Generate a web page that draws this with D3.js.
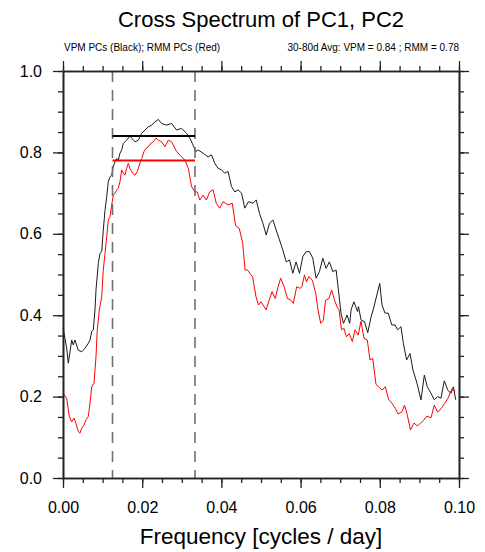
<!DOCTYPE html>
<html>
<head>
<meta charset="utf-8">
<script src="https://cdn.jsdelivr.net/npm/d3@7"></script>
<style>
  body { margin: 0; background: #fff; }
  svg { display: block; font-family: "Liberation Sans", Arial, sans-serif; }
</style>
</head>
<body>
<div id="chart"></div>
<script>
// Frequency (cycles/day) and coherence
const vpmFreq = [0.00003,0.00093,0.00134,0.00220,0.00260,0.00303,0.00386,0.00472,0.00556,0.00639,0.00682,0.00725,0.00765,0.00808,0.00833,0.00891,0.00934,0.00977,0.01017,0.01061,0.01104,0.01144,0.01187,0.01230,0.01270,0.01313,0.01356,0.01396,0.01439,0.01482,0.01523,0.01608,0.01692,0.01735,0.01818,0.01902,0.01988,0.02071,0.02154,0.02240,0.02323,0.02407,0.02490,0.02616,0.02742,0.02869,0.02995,0.03119,0.03202,0.03285,0.03352,0.03411,0.03538,0.03664,0.03750,0.03833,0.03917,0.04003,0.04086,0.04169,0.04255,0.04338,0.04422,0.04508,0.04591,0.04684,0.04796,0.04879,0.04962,0.05048,0.05131,0.05215,0.05301,0.05384,0.05467,0.05551,0.05637,0.05720,0.05803,0.05886,0.05972,0.06056,0.06139,0.06225,0.06308,0.06391,0.06475,0.06561,0.06644,0.06727,0.06813,0.06897,0.06955,0.07020,0.07083,0.07174,0.07240,0.07275,0.07346,0.07437,0.07462,0.07528,0.07614,0.07696,0.07780,0.07833,0.07998,0.08056,0.08131,0.08215,0.08301,0.08384,0.08452,0.08535,0.08594,0.08677,0.08763,0.08838,0.08939,0.09040,0.09125,0.09200,0.09293,0.09376,0.09460,0.09545,0.09629,0.09715,0.09798,0.09858,0.09917];
const vpmVal = [0.368,0.319,0.282,0.339,0.327,0.339,0.314,0.310,0.319,0.331,0.339,0.360,0.364,0.413,0.462,0.527,0.552,0.556,0.609,0.658,0.691,0.728,0.740,0.744,0.765,0.777,0.785,0.781,0.798,0.806,0.822,0.830,0.840,0.835,0.826,0.830,0.847,0.855,0.863,0.867,0.875,0.881,0.871,0.867,0.871,0.855,0.859,0.847,0.835,0.818,0.802,0.806,0.798,0.789,0.794,0.773,0.761,0.757,0.749,0.753,0.716,0.703,0.708,0.700,0.663,0.679,0.675,0.683,0.650,0.626,0.597,0.626,0.634,0.609,0.585,0.560,0.531,0.536,0.503,0.531,0.503,0.544,0.556,0.556,0.540,0.491,0.507,0.540,0.515,0.531,0.507,0.511,0.462,0.405,0.380,0.400,0.380,0.413,0.433,0.409,0.421,0.388,0.384,0.357,0.396,0.413,0.478,0.425,0.405,0.405,0.376,0.376,0.364,0.372,0.331,0.290,0.306,0.265,0.233,0.192,0.253,0.224,0.208,0.192,0.200,0.196,0.239,0.216,0.208,0.224,0.192,0.159,0.151];

const rmmFreq = [0.00003,0.00093,0.00159,0.00220,0.00278,0.00328,0.00386,0.00429,0.00472,0.00530,0.00581,0.00639,0.00682,0.00725,0.00783,0.00833,0.00866,0.00917,0.00977,0.01017,0.01061,0.01104,0.01144,0.01187,0.01230,0.01270,0.01313,0.01356,0.01396,0.01439,0.01482,0.01523,0.01563,0.01608,0.01649,0.01692,0.01760,0.01818,0.01876,0.01927,0.01988,0.02045,0.02096,0.02154,0.02215,0.02280,0.02346,0.02407,0.02490,0.02576,0.02659,0.02742,0.02869,0.02995,0.03081,0.03164,0.03247,0.03328,0.03389,0.03455,0.03538,0.03621,0.03704,0.03790,0.03871,0.03957,0.04043,0.04164,0.04275,0.04359,0.04452,0.04538,0.04598,0.04659,0.04747,0.04788,0.04874,0.04937,0.05003,0.05129,0.05205,0.05280,0.05359,0.05432,0.05497,0.05583,0.05669,0.05753,0.05816,0.05901,0.05985,0.06033,0.06098,0.06149,0.06207,0.06295,0.06381,0.06440,0.06508,0.06574,0.06631,0.06717,0.06785,0.06856,0.06919,0.06972,0.07033,0.07093,0.07159,0.07227,0.07306,0.07374,0.07455,0.07525,0.07601,0.07684,0.07753,0.07821,0.07904,0.07992,0.08056,0.08141,0.08225,0.08308,0.08391,0.08462,0.08561,0.08624,0.08689,0.08775,0.08864,0.08946,0.09031,0.09110,0.09185,0.09293,0.09376,0.09460,0.09545,0.09636,0.09722,0.09816,0.09906];
const rmmVal = [0.208,0.196,0.151,0.138,0.147,0.134,0.114,0.110,0.122,0.130,0.143,0.151,0.184,0.224,0.233,0.298,0.364,0.413,0.445,0.511,0.552,0.593,0.634,0.642,0.671,0.695,0.700,0.708,0.712,0.728,0.757,0.749,0.744,0.761,0.773,0.761,0.749,0.744,0.753,0.769,0.785,0.802,0.810,0.814,0.822,0.826,0.835,0.830,0.826,0.814,0.830,0.826,0.802,0.789,0.781,0.761,0.716,0.703,0.703,0.683,0.695,0.683,0.703,0.708,0.675,0.663,0.679,0.671,0.675,0.620,0.613,0.577,0.511,0.511,0.499,0.495,0.445,0.425,0.433,0.413,0.437,0.458,0.441,0.470,0.491,0.470,0.441,0.437,0.429,0.470,0.466,0.470,0.499,0.482,0.495,0.486,0.454,0.413,0.380,0.388,0.437,0.441,0.462,0.437,0.421,0.413,0.364,0.368,0.347,0.355,0.335,0.364,0.351,0.385,0.343,0.339,0.290,0.294,0.230,0.222,0.216,0.224,0.192,0.184,0.171,0.157,0.163,0.179,0.157,0.118,0.135,0.128,0.135,0.142,0.152,0.148,0.179,0.162,0.170,0.183,0.196,0.218,0.214,0.208,0.196,0.172,0.140];

// 30-80 day band and band averages
const bandFreq = [1 / 80, 1 / 30];
const vpmAvg = 0.84, rmmAvg = 0.78;

const xMajor = [0, 0.02, 0.04, 0.06, 0.08, 0.10];
const yMajor = [0, 0.2, 0.4, 0.6, 0.8, 1.0];

// Setting dimensions
const W = 485, H = 552;
const margin = {top: 71, right: 26, bottom: 74, left: 63};

const x = d3.scaleLinear().domain([0, 0.1]).range([margin.left, W - margin.right]);
const y = d3.scaleLinear().domain([0, 1]).range([H - margin.bottom, margin.top]);

const svg = d3.select("#chart").append("svg")
    .attr("width", W)
    .attr("height", H);

// Curves
const line = d3.line()
    .x(d => x(d[0]))
    .y(d => y(d[1]));

svg.append("path")
    .datum(vpmFreq.map((f, i) => [f, vpmVal[i]]))
    .attr("fill", "none")
    .attr("stroke", "#1a1a1a")
    .attr("stroke-width", 1)
    .attr("d", line);

svg.append("path")
    .datum(rmmFreq.map((f, i) => [f, rmmVal[i]]))
    .attr("fill", "none")
    .attr("stroke", "#ff0000")
    .attr("stroke-width", 1)
    .attr("d", line);

// Dashed band edges
svg.selectAll(".band")
    .data(bandFreq)
    .enter().append("line")
    .attr("x1", d => x(d)).attr("x2", d => x(d))
    .attr("y1", y(1)).attr("y2", y(0))
    .attr("stroke", "#707070")
    .attr("stroke-width", 1.6)
    .attr("stroke-dasharray", "11,8");

// Band averages
[[vpmAvg, "#000"], [rmmAvg, "#ff0000"]].forEach(([v, c]) => {
    svg.append("line")
        .attr("x1", x(bandFreq[0])).attr("x2", x(bandFreq[1]))
        .attr("y1", y(v)).attr("y2", y(v))
        .attr("stroke", c)
        .attr("stroke-width", 2);
});

// Axes: majors with labels, minors without, ticks outward on all sides
const minorX = d3.range(0, 0.1001, 0.005);
const minorY = d3.range(0, 1.001, 0.05);

function styleAxis(g) {
    g.select(".domain").attr("stroke", "#222").attr("stroke-width", 1.6);
    g.selectAll(".tick line").attr("stroke", "#222").attr("stroke-width", 1.3);
    g.selectAll("text").attr("fill", "#000").style("font-size", "16px")
        .style("font-family", "'Liberation Sans', Arial, sans-serif");
}

const yBottom = y(0), yTop = y(1), xLeft = x(0), xRight = x(0.1);

svg.append("g").attr("transform", `translate(0,${yBottom})`)
    .call(d3.axisBottom(x).tickValues(minorX).tickSize(5).tickSizeOuter(0).tickFormat(""))
    .call(styleAxis);
svg.append("g").attr("transform", `translate(0,${yBottom})`)
    .call(d3.axisBottom(x).tickValues(xMajor).tickSize(10).tickSizeOuter(0).tickPadding(13.5).tickFormat(d3.format(".2f")))
    .call(styleAxis);

svg.append("g").attr("transform", `translate(0,${yTop})`)
    .call(d3.axisTop(x).tickValues(minorX).tickSize(5).tickSizeOuter(0).tickFormat(""))
    .call(styleAxis);
svg.append("g").attr("transform", `translate(0,${yTop})`)
    .call(d3.axisTop(x).tickValues(xMajor).tickSize(10).tickSizeOuter(0).tickFormat(""))
    .call(styleAxis);

svg.append("g").attr("transform", `translate(${xLeft},0)`)
    .call(d3.axisLeft(y).tickValues(minorY).tickSize(5).tickSizeOuter(0).tickFormat(""))
    .call(styleAxis);
svg.append("g").attr("transform", `translate(${xLeft},0)`)
    .call(d3.axisLeft(y).tickValues(yMajor).tickSize(10).tickSizeOuter(0).tickPadding(11).tickFormat(d3.format(".1f")))
    .call(styleAxis);

svg.append("g").attr("transform", `translate(${xRight},0)`)
    .call(d3.axisRight(y).tickValues(minorY).tickSize(5).tickSizeOuter(0).tickFormat(""))
    .call(styleAxis);
svg.append("g").attr("transform", `translate(${xRight},0)`)
    .call(d3.axisRight(y).tickValues(yMajor).tickSize(10).tickSizeOuter(0).tickFormat(""))
    .call(styleAxis);

// Titles
svg.append("text")
    .attr("x", (xLeft + xRight) / 2).attr("y", 27)
    .attr("text-anchor", "middle")
    .style("font-size", "22px")
    .text("Cross Spectrum of PC1, PC2");

svg.append("text")
    .attr("x", xLeft + 1).attr("y", 51)
    .style("font-size", "10px")
    .text("VPM PCs (Black); RMM PCs (Red)");

svg.append("text")
    .attr("x", xRight).attr("y", 51)
    .attr("text-anchor", "end")
    .style("font-size", "10px")
    .text("30-80d Avg: VPM = 0.84 ; RMM = 0.78");

svg.append("text")
    .attr("x", (xLeft + xRight) / 2).attr("y", 544)
    .attr("text-anchor", "middle")
    .style("font-size", "22.5px")
    .text("Frequency [cycles / day]");
</script>
</body>
</html>
